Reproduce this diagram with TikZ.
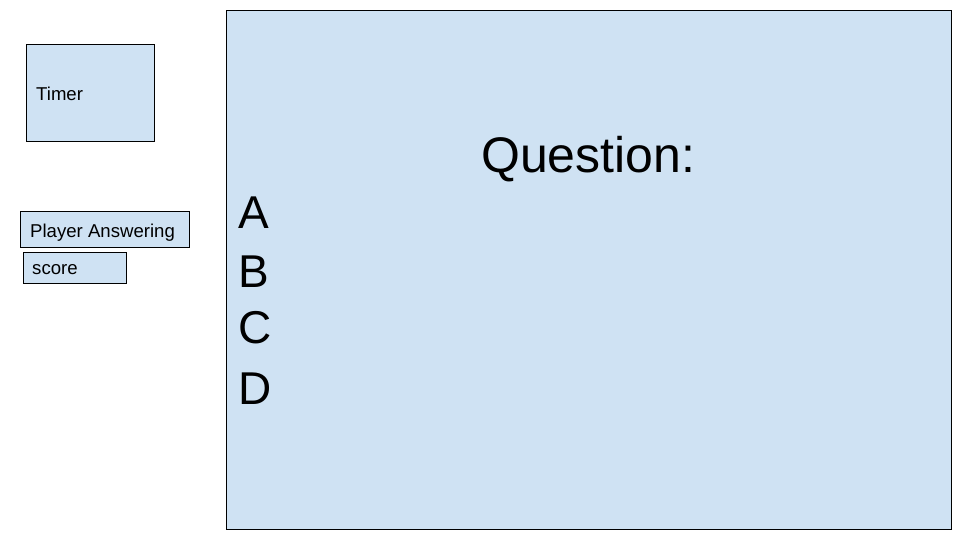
\documentclass[tikz,border=0pt]{standalone}
\usepackage{fontspec}
\setmainfont{Liberation Sans}
\definecolor{paneblue}{HTML}{CFE2F3}
\begin{document}
\begin{tikzpicture}[x=1pt,y=-1pt,
  panel/.style={draw=black, line width=0.9pt, fill=paneblue, inner sep=0pt, anchor=north west},
  small/.style={font=\fontsize{18.6}{21}\selectfont, inner sep=0pt, anchor=base west},
  big/.style={font=\fontsize{50}{56}\selectfont, inner sep=0pt, anchor=base west},
  letter/.style={font=\fontsize{46}{52}\selectfont, inner sep=0pt, anchor=base west}]
\useasboundingbox (0,0) rectangle (960,540);
\node[panel, minimum width=725, minimum height=519] (main) at (226,10) {};
\node[panel, minimum width=128, minimum height=97] (timerbox) at (26,44) {};
\node[panel, minimum width=169, minimum height=36] (playerbox) at (20,211) {};
\node[panel, minimum width=103, minimum height=31] (scorebox) at (23,252) {};
\node[small] (timer) at (36,101) {Timer};
\node[small] (player) at (30,237) {Player Answering};
\node[small] (score) at (32,274) {score};
\node[big] (question) at (481,172) {Question:};
\node[letter] (la) at (238,228) {A};
\node[letter] (lb) at (238,287) {B};
\node[letter] (lc) at (238,343) {C};
\node[letter] (ld) at (238,404) {D};
\end{tikzpicture}
\end{document}
